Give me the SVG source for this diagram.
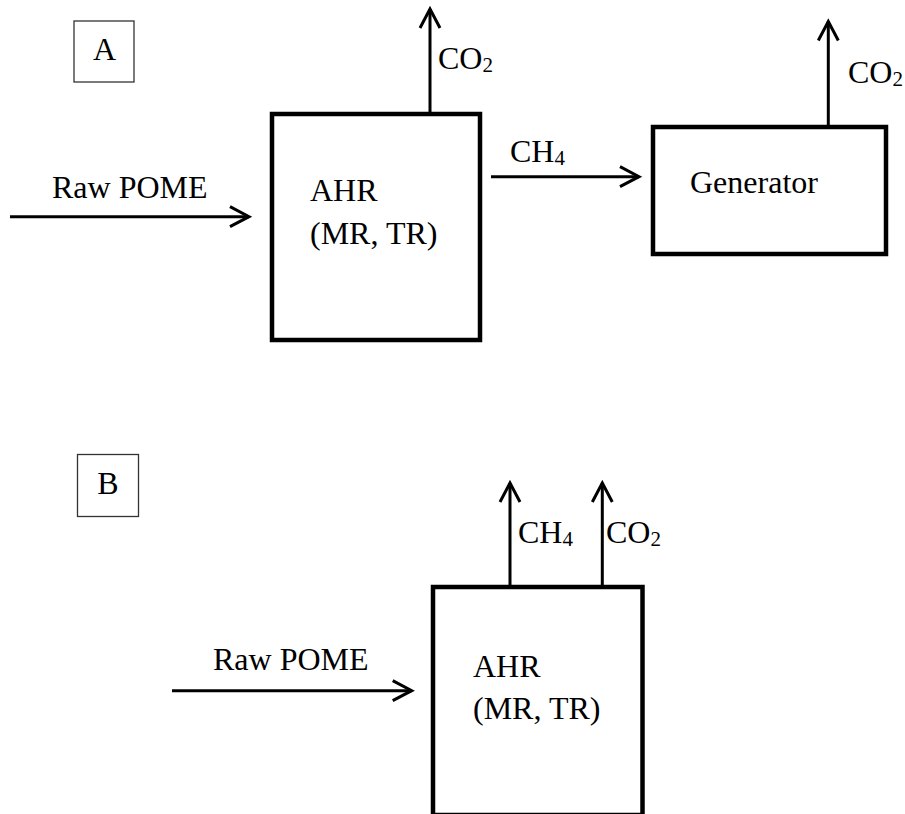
<svg xmlns="http://www.w3.org/2000/svg" width="905" height="814" viewBox="0 0 905 814">
<style>
text{font-family:"Liberation Serif","Times New Roman",serif;font-size:32px;fill:#000}
.sub{font-size:21px}
.box{fill:#fff;stroke:#000;stroke-width:4.5}
.lbl{fill:#fff;stroke:#333;stroke-width:1.3}
.flow{fill:none;stroke:#000;stroke-width:3}
</style>
<defs>
<marker id="arr" markerUnits="userSpaceOnUse" markerWidth="24" markerHeight="24" refX="20" refY="12" orient="auto" viewBox="0 0 24 24">
<path d="M1,2 L20,12 L1,22" fill="none" stroke="#000" stroke-width="3"/>
</marker>
</defs>
<g id="labelA"><rect class="lbl" x="74" y="21" width="60" height="61"/><text x="104.5" y="60" text-anchor="middle">A</text></g>
<g id="ahrA"><rect class="box" x="272" y="114" width="208" height="226"/><text x="310" y="201">AHR</text><text x="310" y="244">(MR, TR)</text></g>
<g id="generator"><rect class="box" x="653" y="127" width="233" height="127"/><text x="690" y="193">Generator</text></g>
<g id="labelB"><rect class="lbl" x="77.5" y="454.5" width="61" height="62"/><text x="108" y="494" text-anchor="middle">B</text></g>
<g id="ahrB"><rect class="box" x="433" y="587" width="209.5" height="228"/><text x="473" y="677">AHR</text><text x="473" y="719">(MR, TR)</text></g>
<g id="connectors">
<line class="flow" x1="10" y1="216.7" x2="249" y2="216.7" marker-end="url(#arr)"/>
<text x="52" y="198">Raw POME</text>
<line class="flow" x1="430" y1="112" x2="430" y2="9" marker-end="url(#arr)"/>
<text x="438" y="69">CO<tspan class="sub" dy="3">2</tspan></text>
<line class="flow" x1="491" y1="176.7" x2="639" y2="176.7" marker-end="url(#arr)"/>
<text x="510" y="162">CH<tspan class="sub" dy="3">4</tspan></text>
<line class="flow" x1="828.3" y1="125" x2="828.3" y2="21.5" marker-end="url(#arr)"/>
<text x="848" y="83">CO<tspan class="sub" dy="3">2</tspan></text>
<line class="flow" x1="172" y1="690.7" x2="411.7" y2="690.7" marker-end="url(#arr)"/>
<text x="213" y="670">Raw POME</text>
<line class="flow" x1="510" y1="585" x2="510" y2="483" marker-end="url(#arr)"/>
<text x="518" y="543">CH<tspan class="sub" dy="3">4</tspan></text>
<line class="flow" x1="602.3" y1="585" x2="602.3" y2="483" marker-end="url(#arr)"/>
<text x="606" y="543">CO<tspan class="sub" dy="3">2</tspan></text>
</g>
</svg>
